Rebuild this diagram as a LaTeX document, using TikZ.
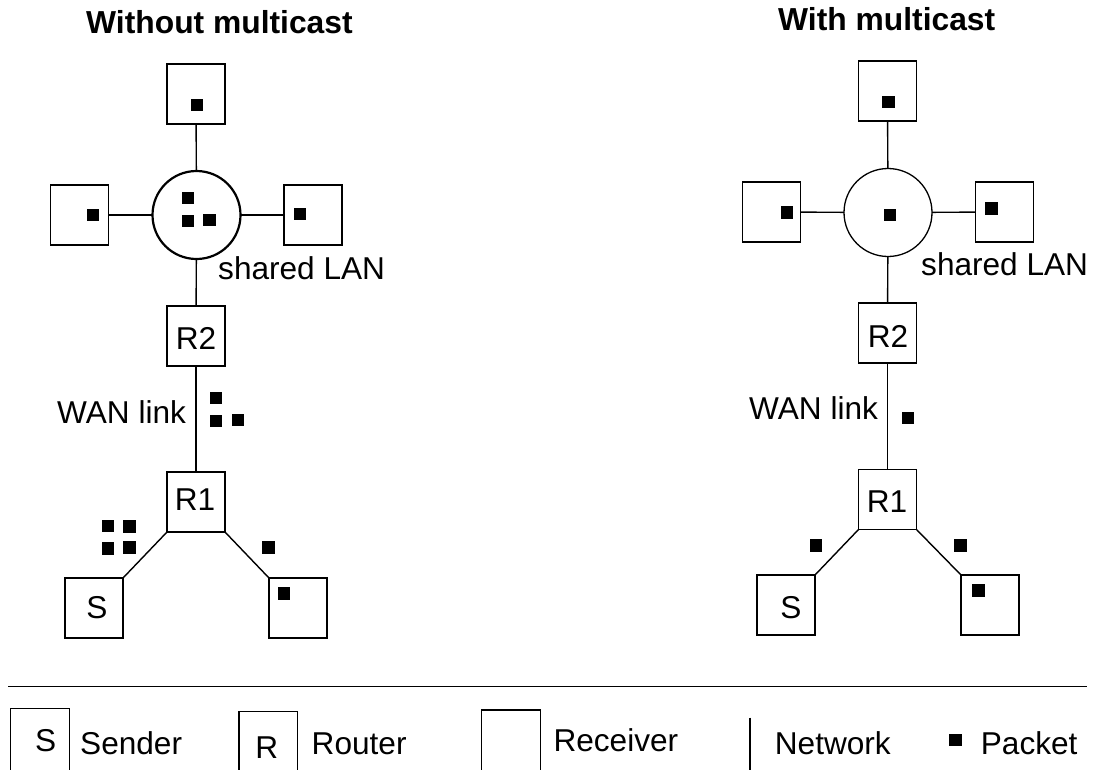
\documentclass[tikz,border=0pt]{standalone}
\usepackage{fontspec}
\setmainfont{Liberation Sans}
\tikzset{
  x=1pt,y=-1pt,
  netbox/.style={draw,line width=1.3pt,rectangle,minimum width=58pt,minimum height=60pt,inner sep=0pt,outer sep=0pt},
  lan/.style={draw,circle,minimum size=88pt,inner sep=0pt,outer sep=0pt},
  link/.style={line width=1.4pt},
  packet/.style={fill=black,rectangle,minimum width=12.7pt,minimum height=12.7pt,inner sep=0pt,outer sep=0pt},
  lab/.style={anchor=base west,inner sep=0pt,font=\fontsize{31.6}{34}\selectfont},
  clab/.style={anchor=base,inner sep=0pt,font=\fontsize{31.6}{34}\selectfont},
  ttl/.style={anchor=base west,inner sep=0pt,font=\bfseries\fontsize{31.8}{34}\selectfont},
}
\newcommand{\pk}[3]{\node[packet] (#1) at (#2,#3) {};}
\begin{document}
\begin{tikzpicture}
\useasboundingbox (0,0) rectangle (1097,769);
% left
\node[ttl] (t1) at (86,33) {Without multicast};
\node[netbox] (la) at (196,94) {};
\node[netbox] (lb) at (79.5,215) {};
\node[netbox] (lc) at (313,215) {};
\node[lan,line width=2.2pt] (ll) at (196.5,215) {};
\node[netbox] (lr2) at (196,336) {};
\node[netbox] (lr1) at (196,502) {};
\node[netbox] (ls) at (94,608) {};
\node[netbox] (ld) at (298,608) {};
\draw[link] (la) -- (ll);
\draw[link] (lb) -- (ll);
\draw[link] (lc) -- (ll);
\draw[link] (ll) -- (lr2);
\draw[link] (lr2) -- (lr1);
\draw[link] (lr1.south west) -- (ls.north east);
\draw[link] (lr1.south east) -- (ld.north west);
\node[lab] (l1) at (218,279) {shared LAN};
\node[lab] (l2) at (57,423) {WAN link};
\node[clab] (l3) at (196,349) {R2};
\node[clab] (l4) at (195,510) {R1};
\node[clab] (l5) at (97,618) {S};
\pk{p1}{197}{105}\pk{p2}{93}{215}\pk{p3}{300}{214}
\pk{p4}{188}{198}\pk{p5}{188}{221}\pk{p6}{209.5}{220}
\pk{p7}{216}{398}\pk{p8}{216}{421}\pk{p9}{238}{420}
\pk{p10}{108}{526}\pk{p11}{129.5}{526.5}\pk{p12}{108}{548.5}\pk{p13}{129.5}{547.5}
\pk{p14}{268.5}{547.5}\pk{p15}{284}{593.5}
% right
\node[ttl] (t2) at (778,30) {With multicast};
\node[netbox] (ra) at (887.5,91) {};
\node[netbox] (rb) at (771.5,212) {};
\node[netbox] (rc) at (1004.5,212) {};
\node[lan,line width=1.3pt] (rl) at (888,212.5) {};
\node[netbox] (rr2) at (887.5,333) {};
\node[netbox] (rr1) at (887.5,499.5) {};
\node[netbox] (rs) at (786,605) {};
\node[netbox] (rd) at (990,605) {};
\draw[link] (ra) -- (rl);
\draw[link] (rb) -- (rl);
\draw[link] (rc) -- (rl);
\draw[link] (rl) -- (rr2);
\draw[link] (rr2) -- (rr1);
\draw[link] (rr1.south west) -- (rs.north east);
\draw[link] (rr1.south east) -- (rd.north west);
\node[lab] (r1) at (921,275) {shared LAN};
\node[lab] (r2) at (749,419) {WAN link};
\node[clab] (r3) at (888,347) {R2};
\node[clab] (r4) at (887,512) {R1};
\node[clab] (r5) at (791,618) {S};
\pk{q1}{888.5}{102}\pk{q2}{787}{212.5}\pk{q3}{991.5}{208.5}
\pk{q4}{890}{215}\pk{q5}{908}{418}
\pk{q6}{816}{545.5}\pk{q7}{960.5}{545.5}\pk{q8}{978.5}{590.5}
% legend
\coordinate (ra1) at (8,686.7);
\coordinate (ra2) at (1086.7,686.7);
\draw[link] (ra1) -- (ra2);
\draw[link] (10.7,772) |- (69.7,708.7) -- (69.7,772);
\draw[link] (239,772) |- (297.5,711.7) -- (297.5,772);
\draw[link] (481.3,772) |- (540.3,710) -- (540.3,772);
\draw[line width=2.2pt] (750,717.7) -- (750,772);
\node[clab] (g1) at (45.7,751.7) {S};
\node[lab] (g2) at (80,754.3) {Sender};
\node[clab] (g3) at (266.7,758.3) {R};
\node[lab] (g4) at (311.5,754.3) {Router};
\node[lab] (g5) at (553.3,751) {Receiver};
\node[lab] (g6) at (774.7,754.3) {Network};
\pk{g7}{955.8}{740}
\node[lab] (g8) at (980.7,754.3) {Packet};
\end{tikzpicture}
\end{document}
